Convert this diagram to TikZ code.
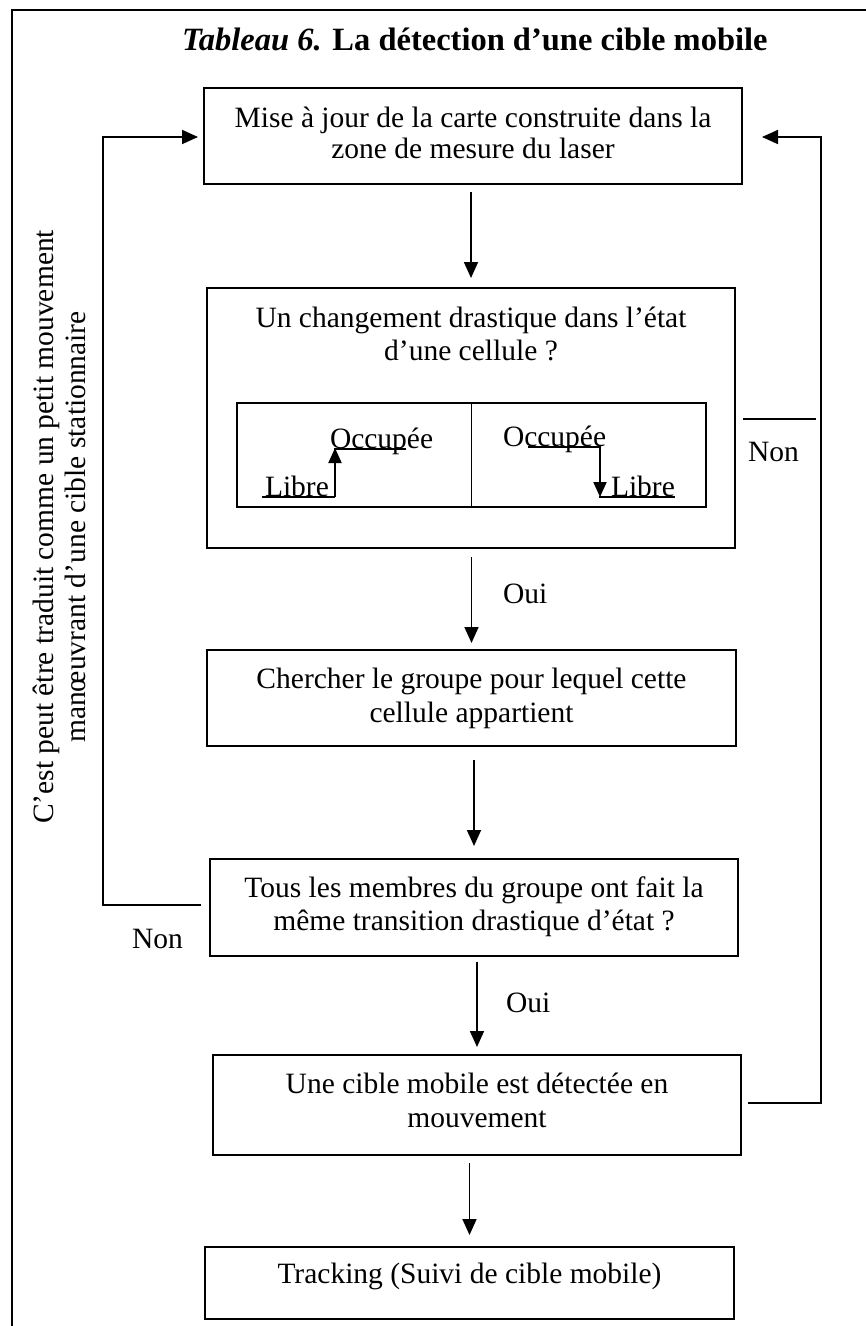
\documentclass[tikz,border=0pt]{standalone}
\usepackage{fontspec}
\setmainfont{Liberation Serif}
\usetikzlibrary{arrows.meta,calc}
\begin{document}
\begin{tikzpicture}[x=1pt,y=-1pt,
  box/.style={draw, line width=1.9pt, inner sep=0pt, outer sep=0pt},
  cellbox/.style={draw, line width=1.2pt, inner sep=0pt, outer sep=0pt},
  txt/.style={inner sep=0pt, outer sep=0pt, anchor=base, font=\fontsize{29.5}{34}\selectfont},
  arr/.style={line width=1.7pt, line join=miter, -{Triangle[width=14pt,length=16pt]}},
  fb/.style={line width=1.7pt},
  mini/.style={line width=2pt},
  miniarr/.style={line width=2pt, -{Triangle[width=13pt,length=15pt]}},
]
\useasboundingbox (0,0) rectangle (866,1326);
% outer frame (only top and left edges are visible)
\coordinate (f1) at (11.5,1326);
\coordinate (f2) at (11.5,10);
\coordinate (f3) at (866,10);
\draw[line width=2pt, line join=miter] (f1) -- (f2) -- (f3);

% title
\node[txt, anchor=base west, font=\fontsize{32.5}{38}\selectfont\bfseries] (title) at (182,50)
  {\textit{Tableau 6.} La détection d’une cible mobile};

% boxes
\node[box, minimum width=538pt, minimum height=96pt] (b1) at (473,136) {};
\node[txt] (t1a) at (473,127) {Mise à jour de la carte construite dans la};
\node[txt] (t1b) at (473,158) {zone de mesure du laser};

\node[box, minimum width=528pt, minimum height=260pt] (b2) at (471,418) {};
\node[txt] (t2a) at (471,327) {Un changement drastique dans l’état};
\node[txt] (t2b) at (471,360) {d’une cellule ?};

\node[cellbox, minimum width=469pt, minimum height=104pt] (tbl) at (471.5,455) {};
\draw[line width=1.2pt] (tbl.north) -- (tbl.south);

\node[box, minimum width=529pt, minimum height=96pt] (b3) at (471.5,698) {};
\node[txt] (t3a) at (471.5,688) {Chercher le groupe pour lequel cette};
\node[txt] (t3b) at (471.5,722) {cellule appartient};

\node[box, minimum width=528pt, minimum height=97pt] (b4) at (474,907.5) {};
\node[txt] (t4a) at (474,897) {Tous les membres du groupe ont fait la};
\node[txt] (t4b) at (474,930) {même transition drastique d’état ?};

\node[box, minimum width=528pt, minimum height=100pt] (b5) at (477,1105) {};
\node[txt] (t5a) at (477,1093) {Une cible mobile est détectée en};
\node[txt] (t5b) at (477,1127) {mouvement};

\node[box, minimum width=529pt, minimum height=72pt] (b6) at (469.5,1283) {};
\node[txt] (t6) at (469.5,1283) {Tracking (Suivi de cible mobile)};

% inner state diagrams
\node[txt, anchor=base west] (occ1) at (330,448) {Occupée};
\node[txt, anchor=base west] (lib1) at (265,496) {Libre};
\coordinate (u1) at (262,497);
\coordinate (u2) at (335,497);
\coordinate (u3) at (335,448);
\coordinate (u4) at (334,449);
\coordinate (u5) at (406,449);
\draw[mini] (u1) -- (u2);
\draw[miniarr] (u2) -- (u3);
\draw[mini] (u4) -- (u5);

\node[txt, anchor=base west] (occ2) at (503,446) {Occupée};
\node[txt, anchor=base west] (lib2) at (611,496) {Libre};
\coordinate (d1) at (528,447);
\coordinate (d2) at (601,447);
\coordinate (d3) at (600,446);
\coordinate (d4) at (600,497);
\coordinate (d5) at (599,497);
\coordinate (d6) at (675,497);
\draw[mini] (d1) -- (d2);
\draw[miniarr] (d3) -- (d4);
\draw[mini] (d5) -- (d6);

% main arrows
\draw[arr] ($(b1.south -| b2.north)+(0,8)$) -- ($(b2.north)+(0,-10)$);
\draw[arr] ($(b2.south -| b3.north)+(0,9)$) -- ($(b3.north)+(0,-7)$);
\draw[arr] ($(b3.south -| b4.north)+(0,14)$) -- ($(b4.north)+(0,-13)$);
\draw[arr] ($(b4.south -| b5.north)+(0,6)$) -- ($(b5.north)+(0,-8)$);
\draw[arr] ($(b5.south -| b6.north)+(0,8)$) -- ($(b6.north)+(0,-12)$);

\node[txt, anchor=base west] (oui1) at (503,603) {Oui};
\node[txt, anchor=base west] (oui2) at (506,1012) {Oui};

% feedback loops
\coordinate (l1) at (103,905);
\coordinate (l2) at (103,137);
\draw[arr] ($(b4.west)+(-9,-2.5)$) -- (l1) -- (l2) -- ($(b1.west)+(-6,1)$);
\node[txt, anchor=base west] (non2) at (132,948) {Non};

\coordinate (r1) at (821,1103);
\coordinate (r2) at (821,137);
\draw[arr] ($(b5.east)+(7,-2)$) -- (r1) -- (r2) -- ($(b1.east)+(20,1)$);
\coordinate (m1) at (743,419);
\coordinate (m2) at (816,419);
\draw[fb] (m1) -- (m2);
\node[txt, anchor=base west] (non1) at (748,461) {Non};

% rotated side note
\node[txt, rotate=90] (rt1) at (53,527) {C’est peut être traduit comme un petit mouvement};
\node[txt, rotate=90] (rt2) at (85,527) {manœuvrant d’une cible stationnaire};
\end{tikzpicture}
\end{document}
